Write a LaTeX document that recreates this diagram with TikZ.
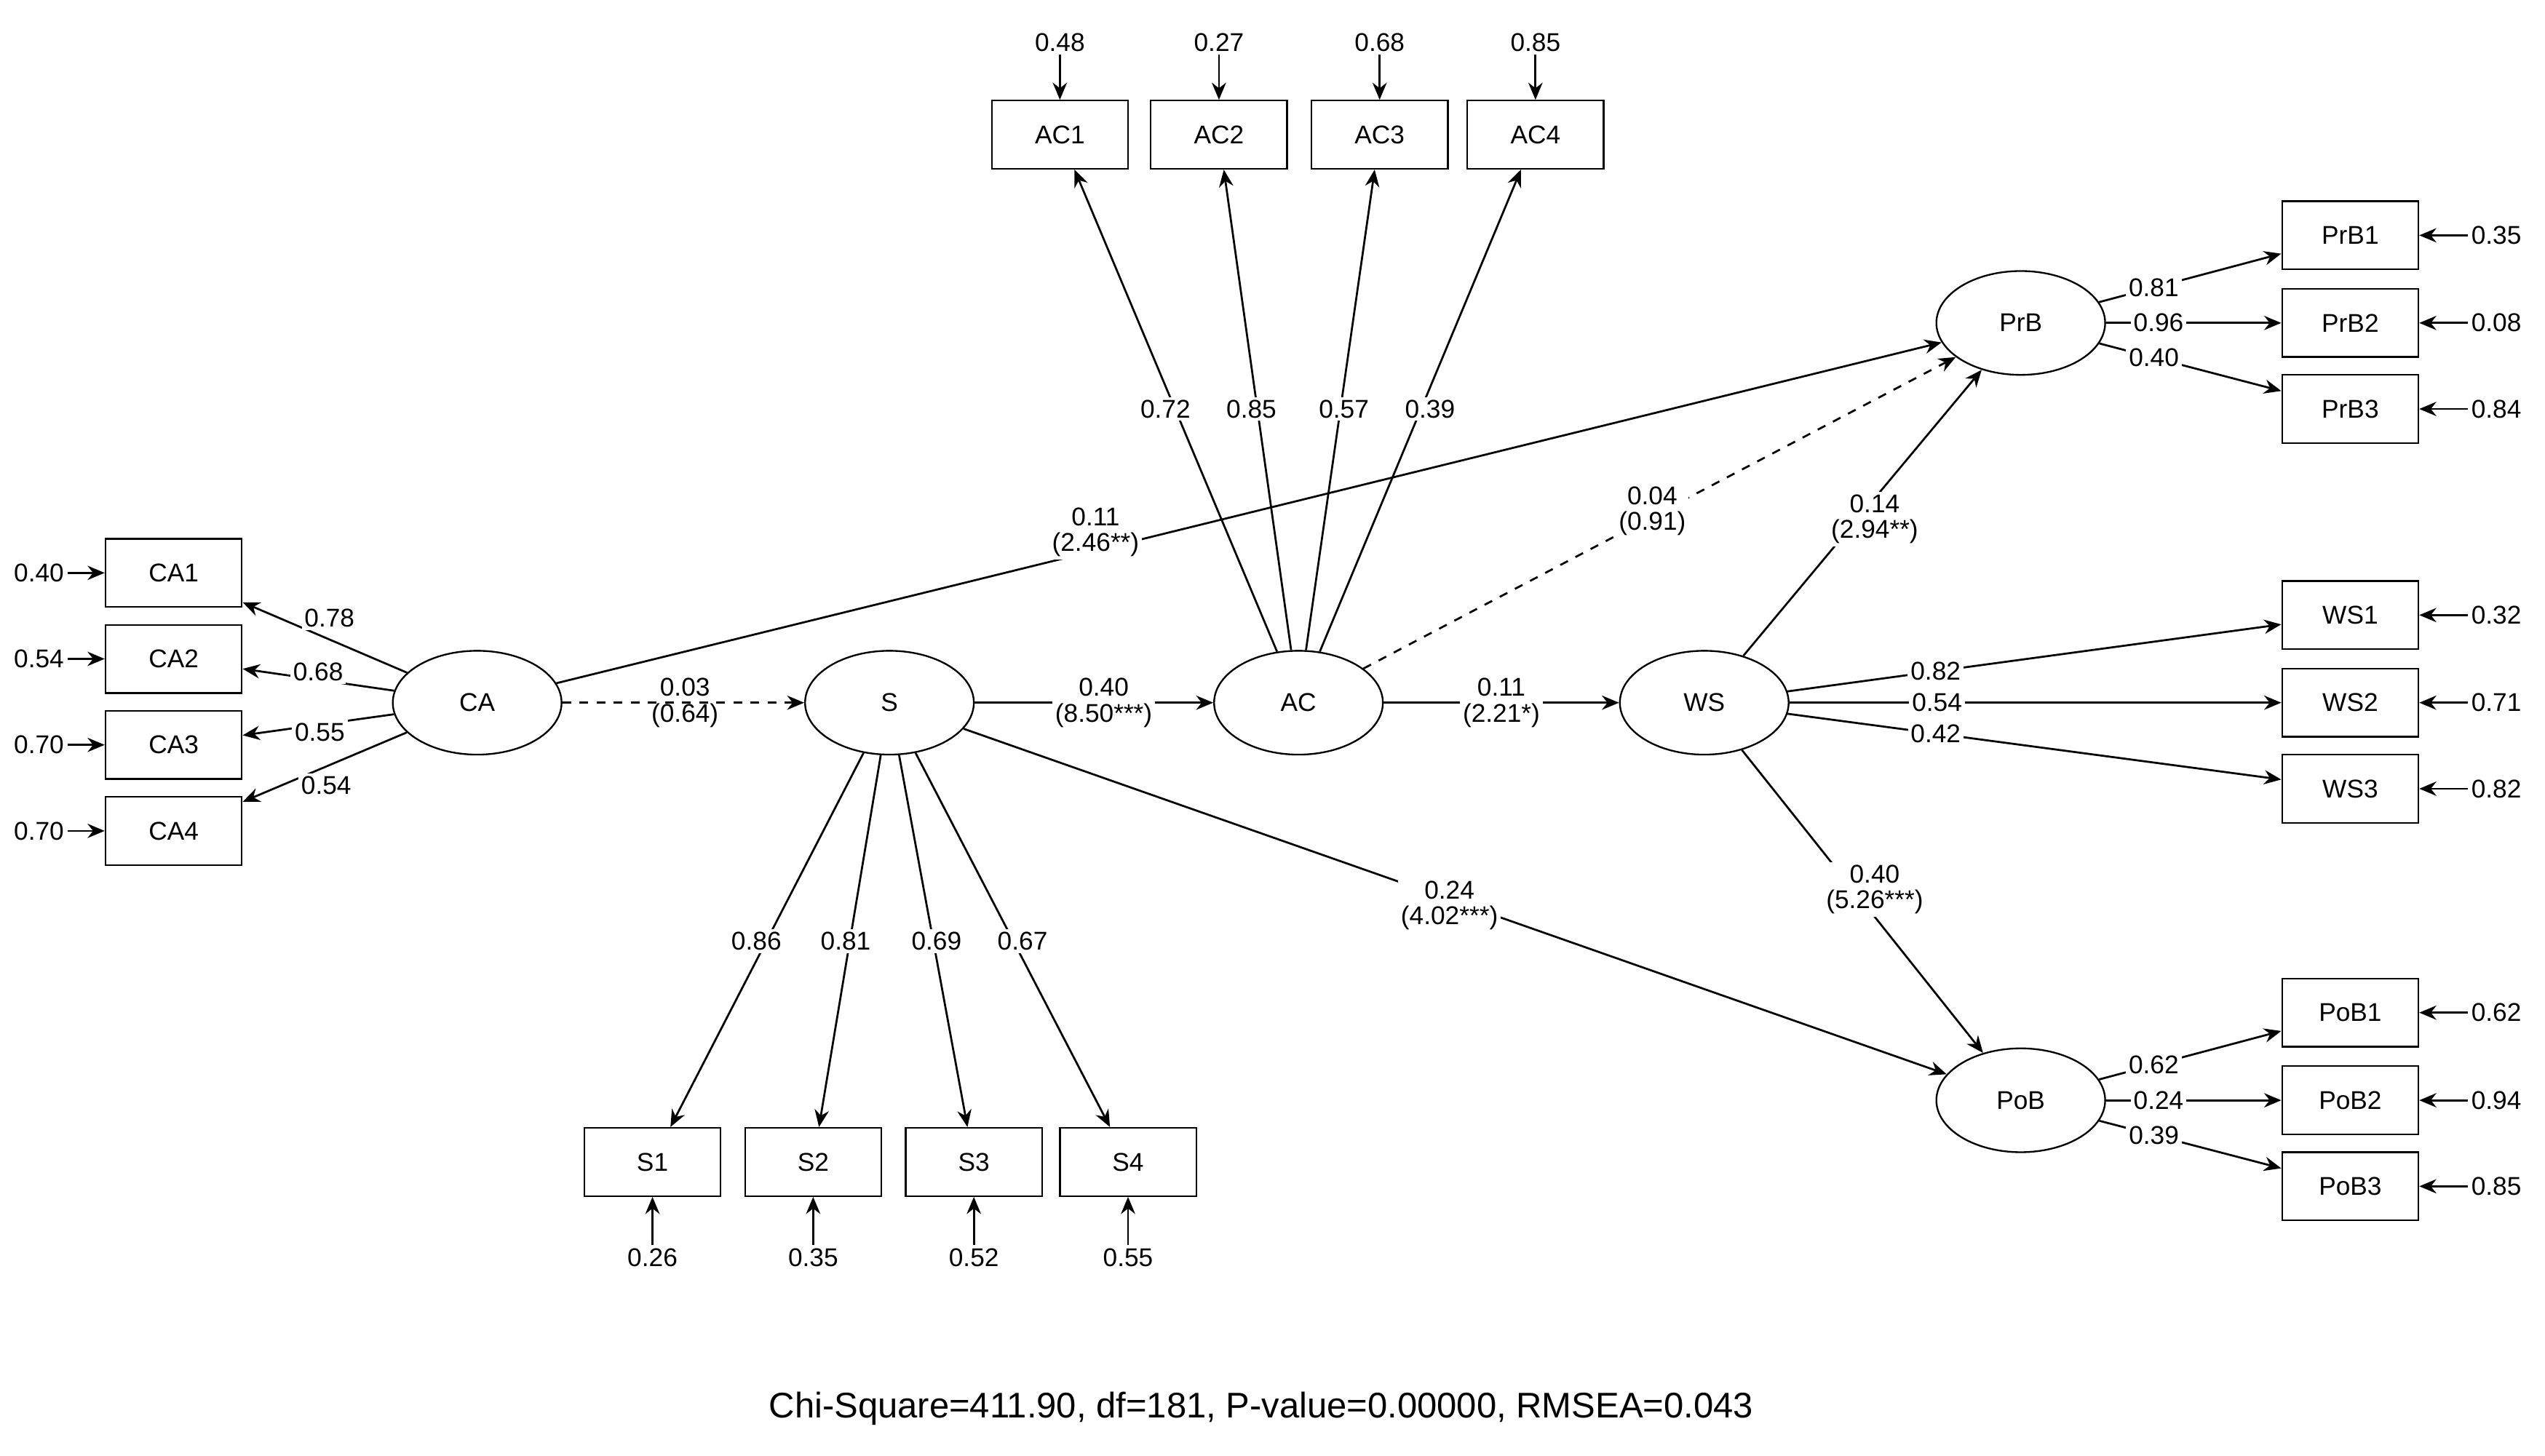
\documentclass[tikz,border=0pt]{standalone}
\usepackage{fontspec}
\setmainfont{Liberation Sans}
\usetikzlibrary{shapes.geometric,arrows.meta}
\begin{document}
\begin{tikzpicture}[x=0.02cm,y=-0.02cm,
  every node/.style={font=\fontsize{9}{10}\selectfont},
  box/.style={draw,line width=0.6pt,minimum width=1.68cm,minimum height=0.84cm,inner sep=0pt},
  lat/.style={draw,ellipse,line width=0.6pt,minimum width=2.08cm,minimum height=1.28cm,inner sep=0pt},
  arr/.style={line width=0.7pt,-{Stealth[length=6pt,width=5pt]}},
  dsh/.style={arr,dashed},
  lab/.style={fill=white,inner sep=1pt,align=center},
  err/.style={inner sep=1pt}]
\useasboundingbox (0,0) rectangle (1568,897);
% latent
\node[lat] (CA) at (294,433) {CA};
\node[lat] (S) at (548,433) {S};
\node[lat] (AC) at (800,433) {AC};
\node[lat] (WS) at (1050,433) {WS};
\node[lat] (PrB) at (1245,199) {PrB};
\node[lat] (PoB) at (1245,678) {PoB};
% CA indicators
\foreach \i/\y/\e/\l/\lx/\ly in {1/353/0.40/0.78/203/381,2/406/0.54/0.68/196/414,3/459/0.70/0.55/197/451,4/512/0.70/0.54/201/484}{
  \node[box] (CA\i) at (107,\y) {CA\i};
  \node[err] (eCA\i) at (24,\y) {\e};
  \draw[arr] (eCA\i) -- (CA\i);
  \draw[arr] (CA) -- (CA\i);
  \node[lab] at (\lx,\ly) {\l};
}
% AC indicators
\foreach \i/\x/\e/\l/\lx in {1/653/0.48/0.72/718,2/751/0.27/0.85/771,3/850/0.68/0.57/828,4/946/0.85/0.39/881}{
  \node[box] (AC\i) at (\x,83) {AC\i};
  \node[err] (eAC\i) at (\x,26) {\e};
  \draw[arr] (eAC\i) -- (AC\i);
  \draw[arr] (AC) -- (AC\i);
  \node[lab] at (\lx,252) {\l};
}
% S indicators
\foreach \i/\x/\e/\l/\lx in {1/402/0.26/0.86/466,2/501/0.35/0.81/521,3/600/0.52/0.69/577,4/695/0.55/0.67/630}{
  \node[box] (S\i) at (\x,716) {S\i};
  \node[err] (eS\i) at (\x,775) {\e};
  \draw[arr] (eS\i) -- (S\i);
  \draw[arr] (S) -- (S\i);
  \node[lab] at (\lx,580) {\l};
}
% right indicators
\foreach \n/\cy/\ea/\eb/\ec/\la/\lb/\lc in {PrB/199/0.35/0.08/0.84/0.81/0.96/0.40,WS/433/0.32/0.71/0.82/0.82/0.54/0.42,PoB/678/0.62/0.94/0.85/0.62/0.24/0.39}{
  \foreach \i/\d/\e/\l in {1/-54/\ea/\la,2/0/\eb/\lb,3/53/\ec/\lc}{
    \node[box] (\n\i) at (1448,\cy+\d) {\n\i};
    \node[err] (e\n\i) at (1538,\cy+\d) {\e};
    \draw[arr] (e\n\i) -- (\n\i);
    \draw[arr] (\n) -- node[lab,pos=0.3] {\l} (\n\i);
  }
}
% structural
\draw[dsh] (CA) -- (S);
\node[align=center] at (422,433) {0.03\\[-1pt](0.64)};
\draw[arr] (S) -- (AC);
\node[lab] at (680,433) {0.40\\[-1pt](8.50***)};
\draw[arr] (AC) -- (WS);
\node[lab] at (925,433) {0.11\\[-1pt](2.21*)};
\draw[arr] (CA) -- (PrB);
\node[lab] at (675,328) {0.11\\[-1pt](2.46**)};
\draw[dsh] (AC) -- (PrB);
\node[lab] at (1018,315) {0.04\\[-1pt](0.91)};
\draw[arr] (WS) -- (PrB);
\node[lab] at (1155,320) {0.14\\[-1pt](2.94**)};
\draw[arr] (S) -- (PoB);
\node[lab] at (893,558) {0.24\\[-1pt](4.02***)};
\draw[arr] (WS) -- (PoB);
\node[lab] at (1155,548) {0.40\\[-1pt](5.26***)};
\node[font=\fontsize{12.5}{14}\selectfont] (fit) at (777,868) {Chi-Square=411.90, df=181, P-value=0.00000, RMSEA=0.043};
\end{tikzpicture}
\end{document}
